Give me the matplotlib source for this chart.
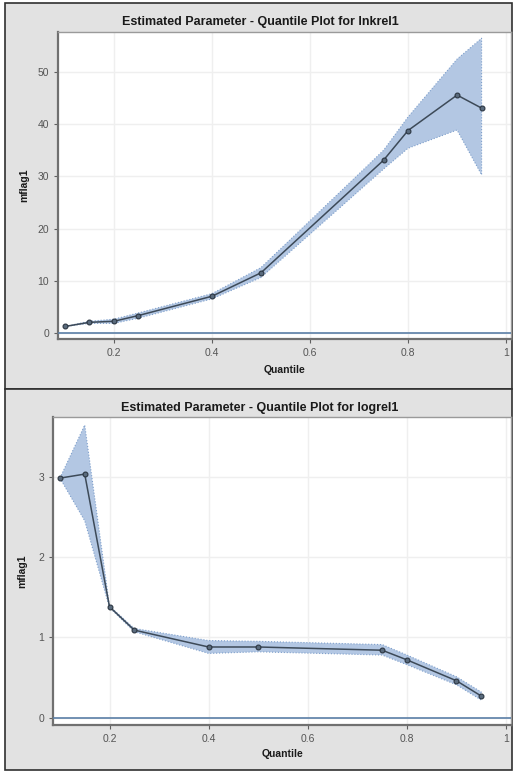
import matplotlib
matplotlib.use("Agg")
import matplotlib.pyplot as plt
from matplotlib.patches import Rectangle

plt.rcParams['font.family'] = ['Liberation Sans', 'DejaVu Sans']

quantiles = [0.10, 0.15, 0.20, 0.25, 0.40, 0.50, 0.75, 0.80, 0.90, 0.95]

# Panel 1: lnkrel1
est1 = [1.2, 2.0, 2.2, 3.3, 7.0, 11.5, 33.1, 38.8, 45.6, 43.1]
lo1 = [1.2, 1.8, 1.8, 2.8, 6.5, 10.6, 31.4, 35.4, 38.9, 30.3]
hi1 = [1.2, 2.2, 2.6, 3.8, 7.5, 12.5, 35.0, 41.4, 52.5, 56.5]

# Panel 2: logrel1
est2 = [2.98, 3.03, 1.38, 1.09, 0.88, 0.88, 0.84, 0.72, 0.46, 0.27]
lo2 = [2.98, 2.45, 1.37, 1.07, 0.80, 0.82, 0.78, 0.66, 0.41, 0.22]
hi2 = [2.98, 3.64, 1.39, 1.11, 0.96, 0.95, 0.91, 0.78, 0.51, 0.32]

titles = ["Estimated Parameter - Quantile Plot for lnkrel1",
          "Estimated Parameter - Quantile Plot for logrel1"]
ylabel = "mflag1"
xlabel = "Quantile"
xticks = [0.2, 0.4, 0.6, 0.8, 1.0]
xticklabels = ["0.2", "0.4", "0.6", "0.8", "1"]
yticks1 = [0, 10, 20, 30, 40, 50]
yticks2 = [0, 1, 2, 3]

W, H = 517, 772
fig = plt.figure(figsize=(W / 100, H / 100), dpi=100)
fig.patch.set_facecolor('white')

def fx(px):
    return px / W

def fy(py):
    return 1 - py / H

# panel backgrounds
for (t, b) in [(3, 389), (389, 770)]:
    fig.patches.append(Rectangle((fx(5), fy(b)), fx(512 - 5), (b - t) / H,
                                 transform=fig.transFigure, facecolor='#e2e2e2',
                                 edgecolor='#303030', linewidth=1.2, zorder=-5))

panels = [
    dict(pos=(58, 32, 511, 339), est=est1, lo=lo1, hi=hi1, yt=yticks1,
         ylim=(-1.2, 57.7), title=titles[0], title_y=22, xl_y=370, yl_x=24),
    dict(pos=(53, 417, 511, 725), est=est2, lo=lo2, hi=hi2, yt=yticks2,
         ylim=(-0.09, 3.74), title=titles[1], title_y=408, xl_y=754, yl_x=22),
]

for p in panels:
    l, t, r, b = p['pos']
    ax = fig.add_axes([fx(l), fy(b), (r - l) / W, (b - t) / H], zorder=2)
    ax.set_facecolor('white')
    ax.set_xlim(0.086, 1.01)
    ax.set_ylim(*p['ylim'])
    ax.set_xticks(xticks)
    ax.set_xticklabels(xticklabels)
    ax.set_yticks(p['yt'])
    ax.grid(True, color='#efefef', linewidth=1.0)
    ax.set_axisbelow(True)
    ax.tick_params(colors='#606060', labelsize=7.5, length=3, width=0.8,
                   labelcolor='#555555')
    for s in ['top', 'right']:
        ax.spines[s].set_color('#9a9a9a')
        ax.spines[s].set_linewidth(1.0)
    for s in ['left', 'bottom']:
        ax.spines[s].set_color('#707070')
        ax.spines[s].set_linewidth(1.6)
    ax.fill_between(quantiles, p['lo'], p['hi'], facecolor='#b3c7e3',
                    edgecolor='#7e9fcb', linewidth=0.8, linestyle=':', zorder=2)
    ax.axhline(0, color='#5b7fa6', linewidth=1.2, zorder=3)
    ax.plot(quantiles, p['est'], color='#3d4a58', linewidth=1.1, marker='o',
            markersize=3.5, markerfacecolor='#5a6b7d', markeredgecolor='#2b3541',
            markeredgewidth=0.8, zorder=4)
    fig.text(fx(260), fy(p['title_y']), p['title'], ha='center',
             va='center', fontsize=9, fontweight='bold', color='#1a1a1a')
    fig.text(fx((l + r) / 2), fy(p['xl_y']), xlabel, ha='center', va='center',
             fontsize=7.5, fontweight='bold', color='#1a1a1a')
    fig.text(fx(p['yl_x']), fy((t + b) / 2), ylabel, ha='center', va='center',
             rotation=90, fontsize=7.5, fontweight='bold', color='#1a1a1a')

fig.savefig('out.png', dpi=100)
